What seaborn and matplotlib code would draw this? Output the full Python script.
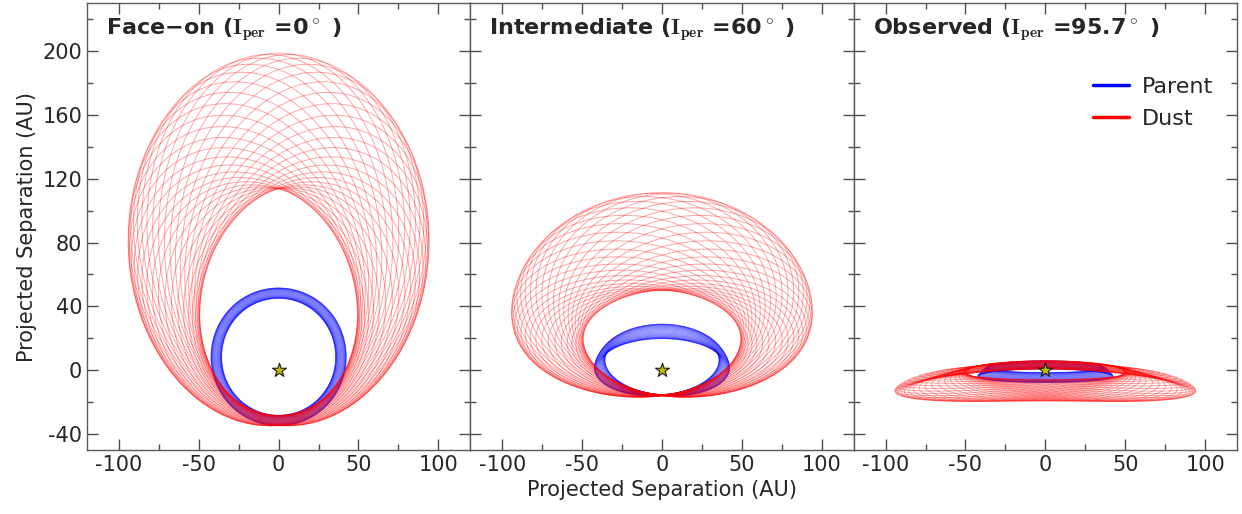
import numpy as np
import pandas as pd
import matplotlib.pyplot as plt
import seaborn as sns
from matplotlib.lines import Line2D
from matplotlib.ticker import MultipleLocator

# three viewing geometries (inclination of the pericentre, deg)
view_names = ["Face\u2212on", "Intermediate", "Observed"]
view_incl = [0.0, 60.0, 95.7]
view_incl_labels = ["0", "60", "95.7"]

# parent belt: one semi-major axis, forced + free eccentricity, free inclination
parent_a = 40.0          # AU
e_forced = 0.21          # forced eccentricity, pericentre pointing down
e_free = 0.08
i_free = 4.0             # deg
# phase of the free eccentricity / inclination vector of each parent orbit (deg)
parent_phase = [0, 9, 18, 27, 36, 45, 54, 63, 72, 81,
                90, 99, 108, 117, 126, 135, 144, 153, 162, 171,
                180, 189, 198, 207, 216, 225, 234, 243, 252, 261,
                270, 279, 288, 297, 306, 315, 324, 333, 342, 351]

# dust grains launched at each parent's periastron
dust_beta = 0.263

star_x = [0.0]
star_y = [0.0]


def orbit_points(ex, ey, q, tilt_x, tilt_y):
    e = np.hypot(ex, ey)
    peri = np.arctan2(ey, ex)
    p = q * (1 + e)
    th = peri + np.linspace(0, 2 * np.pi, 400)
    r = p / (1 + e * np.cos(th - peri))
    x, y = r * np.cos(th), r * np.sin(th)
    tx, ty = np.radians(tilt_x), np.radians(tilt_y)
    x1, z1 = x * np.cos(ty), x * np.sin(ty)
    y2 = y * np.cos(tx) - z1 * np.sin(tx)
    z2 = y * np.sin(tx) + z1 * np.cos(tx)
    return x1, y2, z2


k = 1.0 / (1.0 - dust_beta)
orbits = []
for n, ph in enumerate(parent_phase):
    w = np.radians(ph)
    ex = e_free * np.cos(w)
    ey = -e_forced + e_free * np.sin(w)
    e_p = np.hypot(ex, ey)
    q = parent_a * (1 - e_p)
    tilt_x, tilt_y = i_free * np.sin(w), -i_free * np.cos(w)
    orbits.append(("Parent", n, ex, ey, q, tilt_x, tilt_y))
    # dust keeps the parent's periastron and plane, but feels weaker gravity
    e_d = (1 + e_p) * k - 1
    orbits.append(("Dust", n + 100, ex * e_d / e_p, ey * e_d / e_p, q, tilt_x, tilt_y))

frames = []
for v, incl in enumerate(view_incl):
    ci, si = np.cos(np.radians(incl)), np.sin(np.radians(incl))
    for kind, uid, ex, ey, q, tx, ty in orbits:
        x, y, z = orbit_points(ex, ey, q, tx, ty)
        frames.append(pd.DataFrame({"view": v, "kind": kind, "orbit": uid,
                                    "x": x, "y": y * ci - z * si}))
df = pd.concat(frames, ignore_index=True)

sns.set_theme(style="ticks")
plt.rcParams["font.family"] = ["DejaVu Sans"]
plt.rcParams["mathtext.fontset"] = "cm"
plt.rcParams["axes.unicode_minus"] = False
plt.rcParams["axes.edgecolor"] = "0.35"
plt.rcParams["axes.linewidth"] = 1.0

fig, axes = plt.subplots(1, 3, sharey=True, figsize=(12.42, 5.14), dpi=100)
fig.subplots_adjust(left=0.070, right=0.996, bottom=0.1245, top=0.994, wspace=0)

palette = {"Parent": "#0000ff", "Dust": "#ff0000"}
for v, ax in enumerate(axes):
    sub = df[df["view"] == v]
    sns.lineplot(data=sub[sub["kind"] == "Parent"], x="x", y="y", units="orbit",
                 estimator=None, sort=False, color=palette["Parent"],
                 lw=0.7, alpha=0.26, legend=False, ax=ax)
    sns.lineplot(data=sub[sub["kind"] == "Dust"], x="x", y="y", units="orbit",
                 estimator=None, sort=False, color=palette["Dust"],
                 lw=0.7, alpha=0.35, legend=False, ax=ax)
    sns.scatterplot(x=star_x, y=star_y, marker="*", s=110, color="#bfbf00",
                    edgecolor="k", linewidth=0.8, zorder=5, ax=ax)
    ax.set_xlim(-120, 120)
    ax.set_ylim(-50, 230)
    ax.xaxis.set_major_locator(MultipleLocator(50))
    ax.xaxis.set_minor_locator(MultipleLocator(25))
    ax.yaxis.set_major_locator(MultipleLocator(40))
    ax.yaxis.set_minor_locator(MultipleLocator(20))
    ax.tick_params(which="both", direction="in", top=True, right=True,
                   color="0.3", labelsize=15)
    ax.tick_params(which="major", length=8, width=1)
    ax.tick_params(which="minor", length=4, width=1)
    ax.set_xlabel("")
    ax.set_ylabel("")
    ax.text(0.05, 0.968,
            view_names[v] + r" ($\mathbf{I_{per}}$ =" + view_incl_labels[v] + r"$^\circ$ )",
            transform=ax.transAxes, ha="left", va="top",
            fontsize=16, fontweight="bold")

axes[0].set_ylabel("Projected Separation (AU)", fontsize=15)
axes[1].set_xlabel("Projected Separation (AU)", fontsize=15)

handles = [Line2D([], [], color="#0000ff", lw=2.5),
           Line2D([], [], color="#ff0000", lw=2.5)]
axes[2].legend(handles, ["Parent", "Dust"], frameon=False, loc="upper right",
               bbox_to_anchor=(0.99, 0.88), fontsize=16, handlelength=1.6,
               handletextpad=0.6, labelspacing=0.55)

fig.savefig("out.png", dpi=100)
